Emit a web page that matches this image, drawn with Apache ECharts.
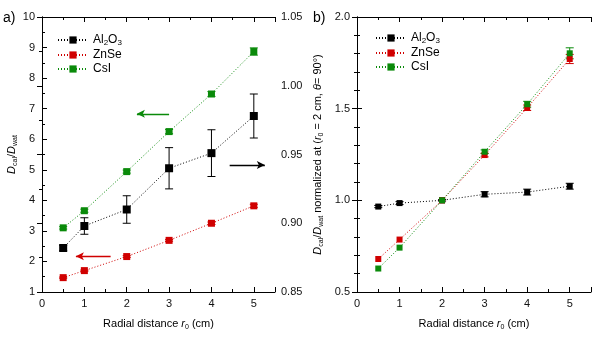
<!DOCTYPE html>
<html>
<head>
<meta charset="utf-8">
<script src="https://cdn.jsdelivr.net/npm/echarts@6/dist/echarts.min.js"></script>
<style>html,body{margin:0;padding:0;background:#fff}#c{width:599px;height:337px}</style>
</head>
<body>
<div id="c"></div>
<script>
// ---- data ----
const radius = [0.5, 1, 2, 3, 4, 5];
const seriesNames = ['Al2O3', 'ZnSe', 'CsI'];
// panel a) absolute ratios (Al2O3 on right axis, ZnSe & CsI on left axis)
const al2o3Abs = [0.882, 0.898, 0.910, 0.940, 0.951, 0.978];
const al2o3AbsErr = [0.002, 0.006, 0.010, 0.015, 0.017, 0.016];
const znseAbs = [1.47, 1.70, 2.16, 2.69, 3.25, 3.82];
const znseAbsErr = [0.02, 0.02, 0.03, 0.03, 0.04, 0.05];
const csiAbs = [3.10, 3.66, 4.94, 6.25, 7.48, 8.87];
const csiAbsErr = [0.04, 0.05, 0.05, 0.07, 0.08, 0.12];
// panel b) normalized at r0 = 2 cm
const al2o3Norm = [0.966, 0.985, 1.000, 1.033, 1.045, 1.077];
const al2o3NormErr = [0.006, 0.008, 0.004, 0.014, 0.016, 0.016];
const znseNorm = [0.680, 0.786, 1.000, 1.247, 1.505, 1.771];
const znseNormErr = [0.000, 0.000, 0.000, 0.010, 0.015, 0.025];
const csiNorm = [0.628, 0.742, 1.000, 1.265, 1.524, 1.802];
const csiNormErr = [0.000, 0.000, 0.000, 0.010, 0.016, 0.030];
// tick settings
const xTicks = {min: 0, max: 5.5, interval: 1};
const yLeftA = {min: 1, max: 10, interval: 1};
const yRightA = {min: 0.85, max: 1.05, interval: 0.05};
const yLeftB = {min: 0.5, max: 2.0, interval: 0.5};

const colors = {'Al2O3': '#000000', 'ZnSe': '#d00000', 'CsI': '#0a8a0a'};
const FONT = 'Liberation Sans, Arial, sans-serif';

const rich = {
  n: {fontFamily: FONT, fontSize: 11, color: '#000', lineHeight: 14, verticalAlign: 'middle'},
  i: {fontFamily: FONT, fontSize: 11, fontStyle: 'italic', color: '#000', lineHeight: 14, verticalAlign: 'middle'},
  s: {fontFamily: FONT, fontSize: 7, color: '#000', lineHeight: 7, verticalAlign: 'bottom'},
  ln: {fontFamily: FONT, fontSize: 12, color: '#000', lineHeight: 14, verticalAlign: 'middle'},
  ls: {fontFamily: FONT, fontSize: 8, color: '#000', lineHeight: 8, verticalAlign: 'bottom'}
};

function legendFmt(name) {
  const n = name.trim();
  if (n === 'Al2O3') return '{ln|Al}{ls|2}{ln|O}{ls|3}';
  return '{ln|' + n + '}';
}

const zip = (xs, ys) => xs.map((x, k) => [x, ys[k]]);
const zip3 = (xs, ys, es) => xs.map((x, k) => [x, ys[k], es[k]]);

function errSeries(name, data, xi, yi, color) {
  return {
    type: 'custom', name: name + '_err', xAxisIndex: xi, yAxisIndex: yi, z: 3, silent: true,
    data: data, encode: {x: 0, y: 1},
    renderItem: function (params, api) {
      const x = api.value(0), y = api.value(1), e = api.value(2);
      if (!(e > 0)) return null;
      const t = api.coord([x, y + e]), b = api.coord([x, y - e]);
      const h = 4;
      return {type: 'group', children: [
        {type: 'line', shape: {x1: t[0], y1: t[1], x2: b[0], y2: b[1]}, style: {stroke: color, lineWidth: 1}},
        {type: 'line', shape: {x1: t[0] - h, y1: t[1], x2: t[0] + h, y2: t[1]}, style: {stroke: color, lineWidth: 1}},
        {type: 'line', shape: {x1: b[0] - h, y1: b[1], x2: b[0] + h, y2: b[1]}, style: {stroke: color, lineWidth: 1}}
      ]};
    }
  };
}

function lineSeries(name, data, xi, yi, color, size, markLine) {
  const s = {
    type: 'line', name: name, xAxisIndex: xi, yAxisIndex: yi, data: data, z: 4,
    symbol: 'rect', symbolSize: size, showSymbol: true,
    lineStyle: {color: color, width: 1, type: [1, 2]},
    itemStyle: {color: color}
  };
  if (markLine) s.markLine = markLine;
  return s;
}

function arrow(color, from, to) {
  return {
    silent: true, symbol: ['none', 'arrow'], symbolSize: [6, 8], animation: false,
    label: {show: false},
    lineStyle: {color: color, width: 1.3, type: 'solid'},
    data: [[{coord: from}, {coord: to}]]
  };
}

const axisLineS = {show: true, lineStyle: {color: '#000', width: 1}};
const tickS = {show: true, inside: true, length: 5, lineStyle: {color: '#000'}};
const minorS = (n) => ({show: true, splitNumber: n, length: 3, lineStyle: {color: '#000'}});
const labelS = {fontFamily: FONT, fontSize: 11, color: '#111'};

function xAxisDef(grid, top) {
  return Object.assign({
    type: 'value', gridIndex: grid, position: top ? 'top' : 'bottom',
    axisLine: axisLineS, axisTick: tickS, minorTick: minorS(2), splitLine: {show: false},
    axisLabel: top ? {show: false} : Object.assign({margin: 6, showMaxLabel: false,
      formatter: v => (Math.abs(v - Math.round(v)) < 1e-6 ? String(Math.round(v)) : '')}, labelS)
  }, xTicks, top ? {} : {
    name: '{n|Radial distance }{i|r}{s|0}{n| (cm)}', nameLocation: 'middle', nameGap: 25,
    nameTextStyle: {rich: rich}
  });
}

const option = {
  animation: false,
  backgroundColor: '#fff',
  grid: [
    {left: 42, right: 324, top: 17, bottom: 45},
    {left: 357, right: 8, top: 17, bottom: 45}
  ],
  legend: [
    {
      left: 52, top: 29, orient: 'vertical', itemWidth: 30, itemHeight: 9, itemGap: 2,
      data: seriesNames, formatter: legendFmt, textStyle: {rich: rich}, selectedMode: false
    },
    {
      left: 370, top: 27, orient: 'vertical', itemWidth: 30, itemHeight: 9, itemGap: 2,
      data: seriesNames.map(n => n + ' '), formatter: legendFmt, textStyle: {rich: rich}, selectedMode: false
    }
  ],
  xAxis: [xAxisDef(0, false), xAxisDef(0, true), xAxisDef(1, false), xAxisDef(1, true)],
  yAxis: [
    Object.assign({
      type: 'value', gridIndex: 0, position: 'left',
      axisLine: axisLineS, axisTick: tickS, minorTick: minorS(2), splitLine: {show: false},
      axisLabel: Object.assign({margin: 7}, labelS),
      name: '{i|D}{s|cal}{n|/}{i|D}{s|wat}', nameLocation: 'middle', nameGap: 22, nameRotate: 90,
      nameTextStyle: {rich: rich}
    }, yLeftA),
    Object.assign({
      type: 'value', gridIndex: 0, position: 'right',
      axisLine: axisLineS, axisTick: tickS, minorTick: minorS(2), splitLine: {show: false},
      axisLabel: Object.assign({margin: 6, formatter: v => v.toFixed(2)}, labelS)
    }, yRightA),
    Object.assign({
      type: 'value', gridIndex: 1, position: 'left',
      axisLine: axisLineS, axisTick: tickS, minorTick: minorS(5), splitLine: {show: false},
      axisLabel: Object.assign({margin: 7, formatter: v => v.toFixed(1)}, labelS),
      name: '{i|D}{s|cal}{n|/}{i|D}{s|wat}{n| normalized at (}{i|r}{s|0}{n| = 2 cm, }{i|θ}{n|= 90°)}',
      nameLocation: 'middle', nameGap: 32, nameRotate: 90,
      nameTextStyle: {rich: rich}
    }, yLeftB),
    Object.assign({
      type: 'value', gridIndex: 1, position: 'right',
      axisLine: axisLineS, axisTick: tickS, minorTick: minorS(5), splitLine: {show: false},
      axisLabel: {show: false}
    }, yLeftB)
  ],
  graphic: [
    {type: 'text', left: 3, top: 11, style: {text: 'a)', font: '14px ' + FONT, fill: '#000'}},
    {type: 'text', left: 313, top: 11, style: {text: 'b)', font: '14px ' + FONT, fill: '#000'}}
  ],
  series: [
    // panel a
    errSeries('Al2O3', zip3(radius, al2o3Abs, al2o3AbsErr), 0, 1, colors['Al2O3']),
    errSeries('ZnSe', zip3(radius, znseAbs, znseAbsErr), 0, 0, colors['ZnSe']),
    errSeries('CsI', zip3(radius, csiAbs, csiAbsErr), 0, 0, colors['CsI']),
    lineSeries('Al2O3', zip(radius, al2o3Abs), 0, 1, colors['Al2O3'], 8,
      arrow(colors['Al2O3'], [4.43, 0.9424], [5.26, 0.9424])),
    lineSeries('ZnSe', zip(radius, znseAbs), 0, 0, colors['ZnSe'], 7,
      arrow(colors['ZnSe'], [1.62, 2.17], [0.80, 2.17])),
    lineSeries('CsI', zip(radius, csiAbs), 0, 0, colors['CsI'], 7,
      arrow(colors['CsI'], [3.0, 6.83], [2.24, 6.83])),
    // panel b
    errSeries('Al2O3 ', zip3(radius, al2o3Norm, al2o3NormErr), 2, 2, colors['Al2O3']),
    errSeries('ZnSe ', zip3(radius, znseNorm, znseNormErr), 2, 2, colors['ZnSe']),
    errSeries('CsI ', zip3(radius, csiNorm, csiNormErr), 2, 2, colors['CsI']),
    lineSeries('Al2O3 ', zip(radius, al2o3Norm), 2, 2, colors['Al2O3'], 6),
    lineSeries('ZnSe ', zip(radius, znseNorm), 2, 2, colors['ZnSe'], 6),
    lineSeries('CsI ', zip(radius, csiNorm), 2, 2, colors['CsI'], 6)
  ]
};

const chart = echarts.init(document.getElementById('c'), null, {renderer: 'canvas'});
chart.setOption(option);
</script>
</body>
</html>
